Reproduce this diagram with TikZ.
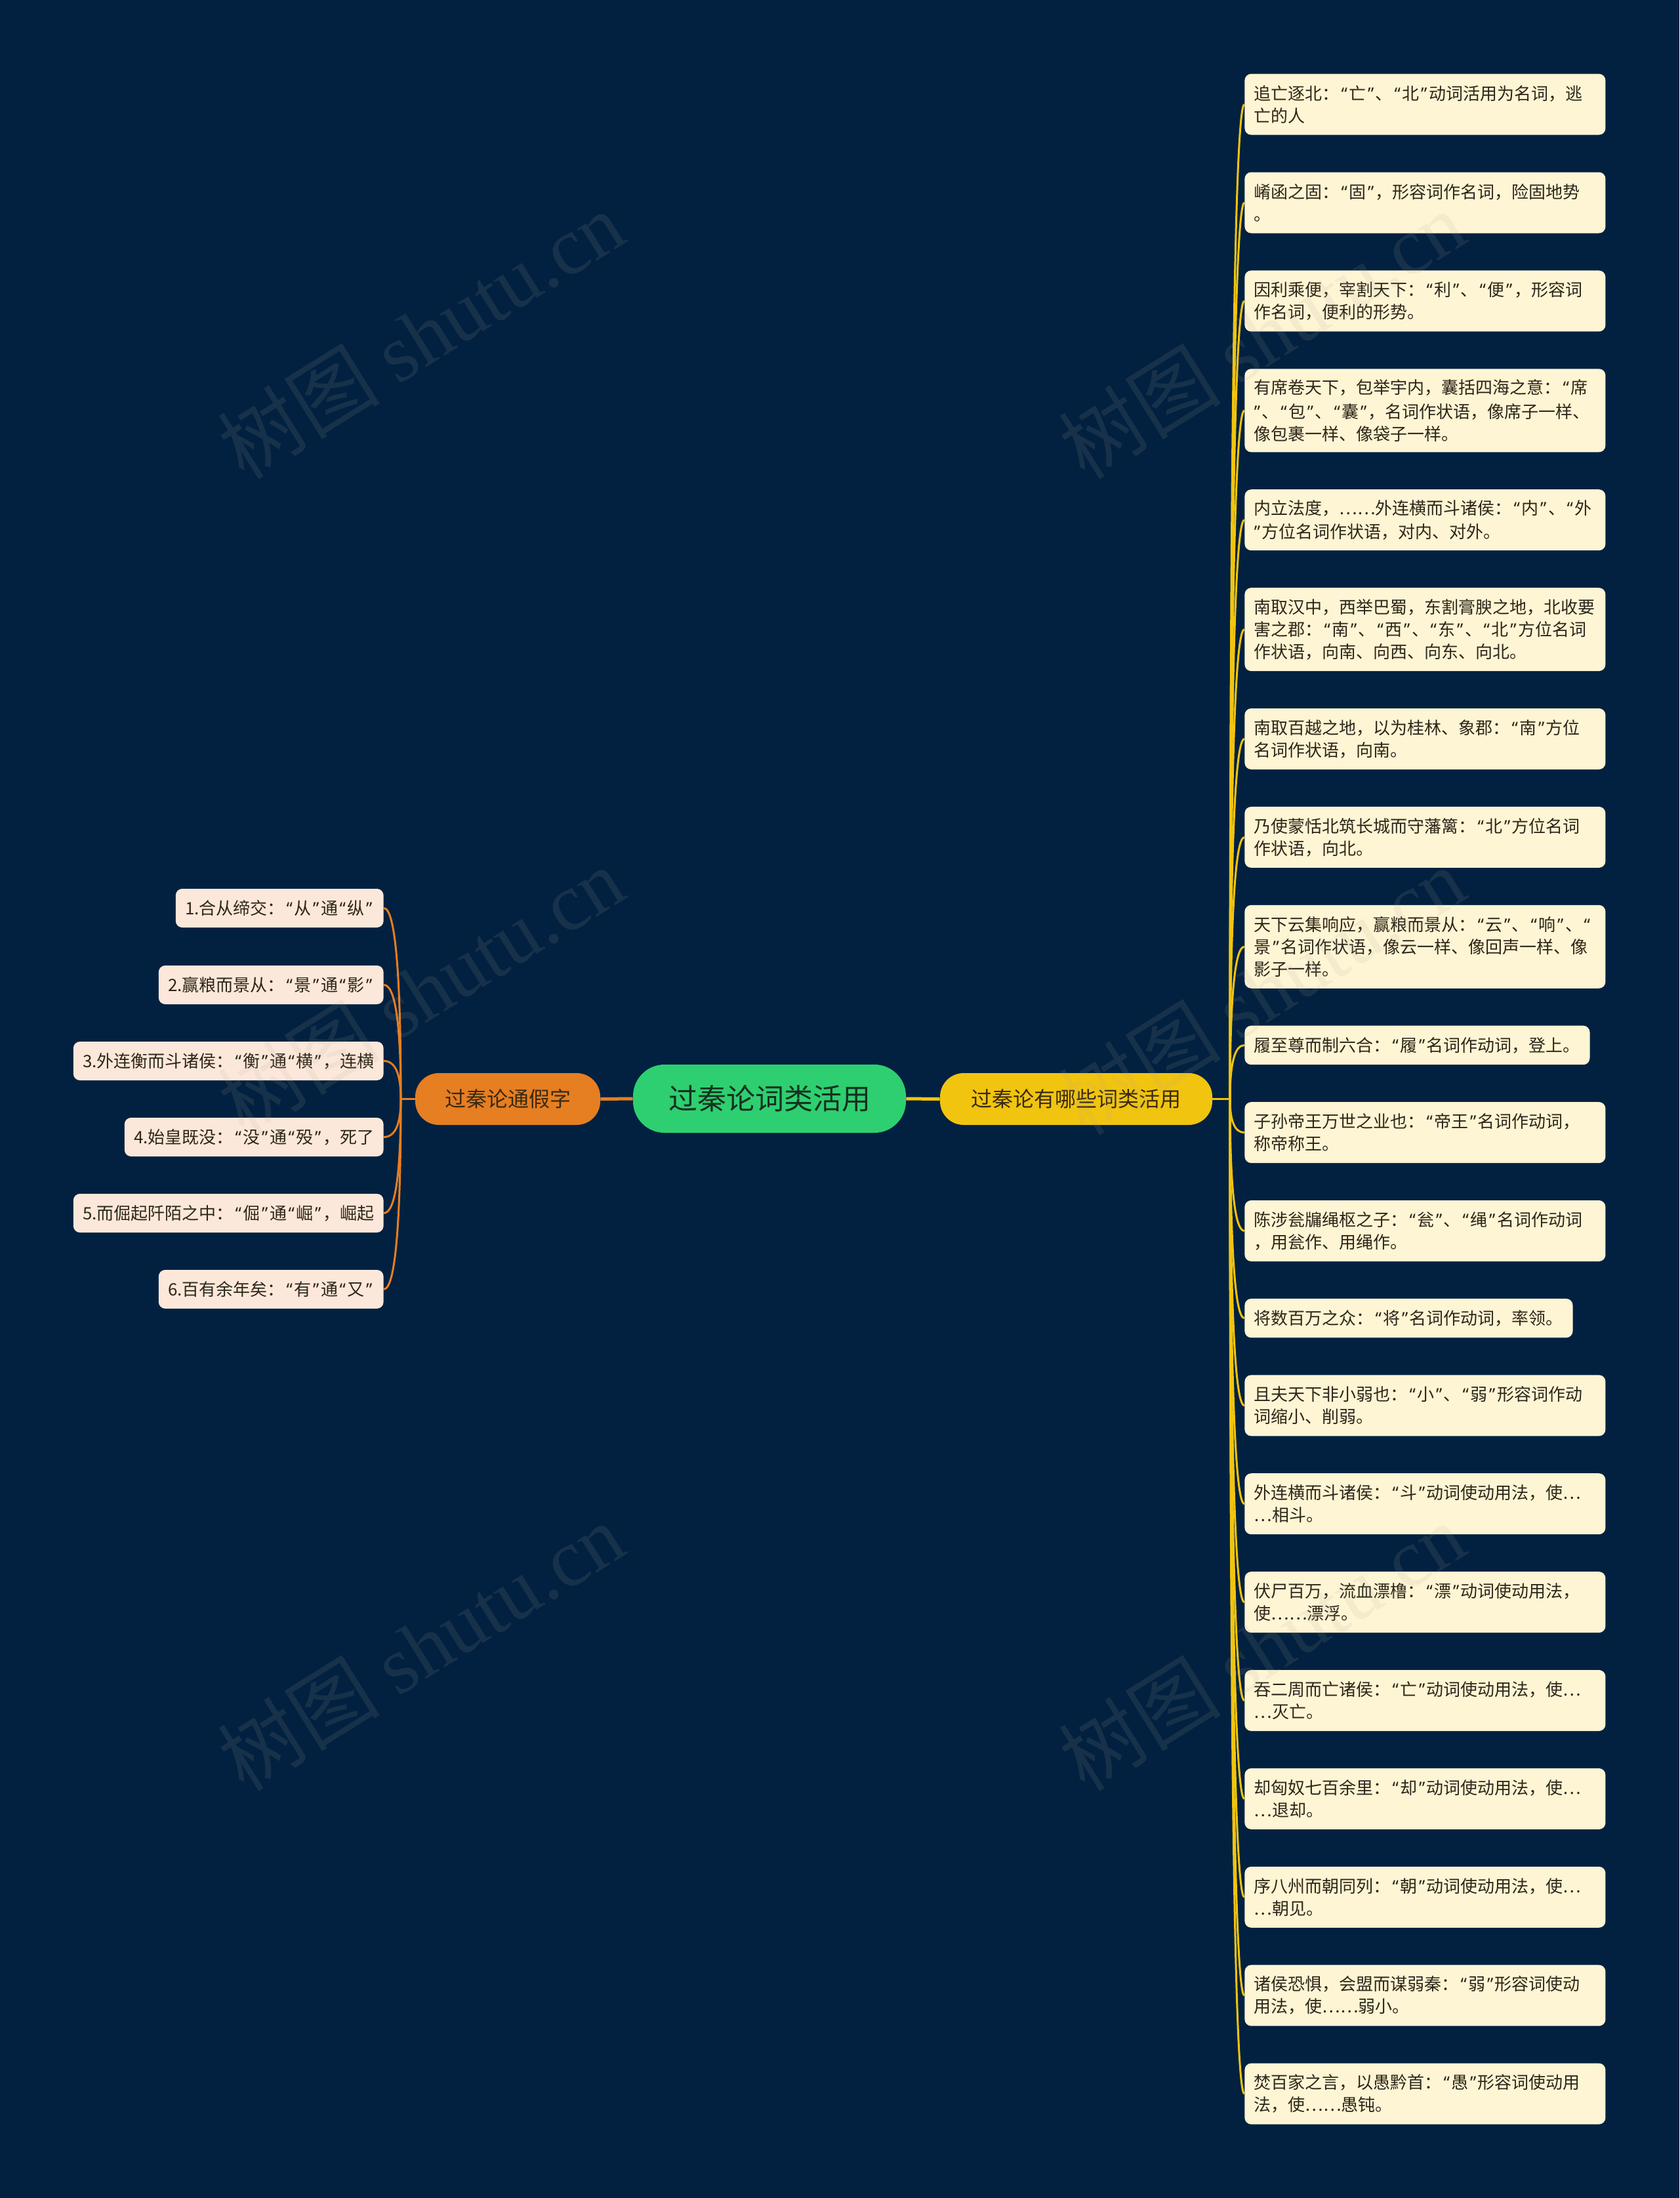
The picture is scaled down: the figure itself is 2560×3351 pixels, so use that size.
\documentclass[tikz,border=0pt]{standalone}
\usepackage{fontspec}
\usepackage{newunicodechar}
\setmainfont{Noto Sans CJK SC}
\newfontfamily\wmlatin{Liberation Serif}
\newfontfamily\qfont{Noto Sans}
\newunicodechar{“}{{\kern0.1em\qfont\char"201C\kern0.1em}}
\newunicodechar{”}{{\kern0.1em\qfont\char"201D\kern0.1em}}
\usetikzlibrary{calc}
\definecolor{bg}{HTML}{022140}
\definecolor{cgreen}{HTML}{2ECF70}
\definecolor{corange}{HTML}{E67E22}
\definecolor{cyellow}{HTML}{F1C40F}
\definecolor{rleaffill}{HTML}{FDF5D4}
\definecolor{lleaffill}{HTML}{FCE8DA}
\definecolor{leaftext}{HTML}{2E2618}
\definecolor{ctext}{HTML}{153020}
\definecolor{btext}{HTML}{3A2A10}
\definecolor{wm}{HTML}{B0A89A}
\tikzset{
  leafbase/.style={rounded corners=5pt, inner xsep=7.25pt, inner ysep=0pt,
    font=\fontsize{13pt}{17pt}\selectfont, text=leaftext, align=left},
  rleaf/.style={leafbase, fill=rleaffill, anchor=west, text width=260.5pt},
  rleafs/.style={leafbase, fill=rleaffill, anchor=west},
  lleaf/.style={leafbase, fill=lleaffill, anchor=east, minimum height=29.5pt},
  oneL/.style={minimum height=29.75pt},
  twoL/.style={minimum height=46.5pt},
  threeL/.style={minimum height=63.5pt},
  rootnode/.style={fill=cgreen, text=ctext, rounded corners=24pt, minimum width=208pt,
    minimum height=52pt, font=\fontsize{22pt}{26pt}\selectfont, inner sep=0pt},
  branchnode/.style={text=btext, rounded corners=18pt, minimum height=39.5pt,
    font=\fontsize{16pt}{20pt}\selectfont, inner sep=0pt},
  rline/.style={draw=cyellow, line width=1.5pt},
  lline/.style={draw=corange, line width=1.5pt},
  mainline/.style={line width=2.5pt},
  wmark/.style={rotate=32, text=wm, opacity=0.12, font=\fontsize{62pt}{70pt}\selectfont}
}
\begin{document}
\begin{tikzpicture}[x=0.5pt, y=-0.5pt]
\fill[bg] (0,0) rectangle (2560,3351);
\useasboundingbox (0,0) rectangle (2560,3351);

% central and branch nodes
\node[rootnode] (root) at (1173,1675) {过秦论词类活用};
\node[branchnode, fill=corange, minimum width=141pt] (lb) at (774,1675.5) {过秦论通假字};
\node[branchnode, fill=cyellow, minimum width=207.5pt] (rb) at (1640.5,1675.5) {过秦论有哪些词类活用};

% right leaves
\node[rleaf, twoL] (r1) at (1897,159.1) {追亡逐北：“亡”、“北”动词活用为名词，逃\\亡的人};
\node[rleaf, twoL] (r2) at (1897,309.0) {崤函之固：“固”，形容词作名词，险固地势\\。};
\node[rleaf, twoL] (r3) at (1897,458.9) {因利乘便，宰割天下：“利”、“便”，形容词\\作名词，便利的形势。};
\node[rleaf, threeL] (r4) at (1897,625.8) {有席卷天下，包举宇内，囊括四海之意：“席\\”、“包”、“囊”，名词作状语，像席子一样、\\像包裹一样、像袋子一样。};
\node[rleaf, twoL] (r5) at (1897,792.7) {内立法度，……外连横而斗诸侯：“内”、“外\\”方位名词作状语，对内、对外。};
\node[rleaf, threeL] (r6) at (1897,959.6) {南取汉中，西举巴蜀，东割膏腴之地，北收要\\害之郡：“南”、“西”、“东”、“北”方位名词\\作状语，向南、向西、向东、向北。};
\node[rleaf, twoL] (r7) at (1897,1126.5) {南取百越之地，以为桂林、象郡：“南”方位\\名词作状语，向南。};
\node[rleaf, twoL] (r8) at (1897,1276.4) {乃使蒙恬北筑长城而守藩篱：“北”方位名词\\作状语，向北。};
\node[rleaf, threeL] (r9) at (1897,1443.3) {天下云集响应，赢粮而景从：“云”、“响”、“\\景”名词作状语，像云一样、像回声一样、像\\影子一样。};
\node[rleafs, oneL] (r10) at (1897,1593.45) {履至尊而制六合：“履”名词作动词，登上。};
\node[rleaf, twoL] (r11) at (1897,1726.6) {子孙帝王万世之业也：“帝王”名词作动词，\\称帝称王。};
\node[rleaf, twoL] (r12) at (1897,1876.5) {陈涉瓮牖绳枢之子：“瓮”、“绳”名词作动词\\，用瓮作、用绳作。};
\node[rleafs, oneL] (r13) at (1897,2009.65) {将数百万之众：“将”名词作动词，率领。};
\node[rleaf, twoL] (r14) at (1897,2142.8) {且夫天下非小弱也：“小”、“弱”形容词作动\\词缩小、削弱。};
\node[rleaf, twoL] (r15) at (1897,2292.7) {外连横而斗诸侯：“斗”动词使动用法，使…\\…相斗。};
\node[rleaf, twoL] (r16) at (1897,2442.6) {伏尸百万，流血漂橹：“漂”动词使动用法，\\使……漂浮。};
\node[rleaf, twoL] (r17) at (1897,2592.5) {吞二周而亡诸侯：“亡”动词使动用法，使…\\…灭亡。};
\node[rleaf, twoL] (r18) at (1897,2742.4) {却匈奴七百余里：“却”动词使动用法，使…\\…退却。};
\node[rleaf, twoL] (r19) at (1897,2892.3) {序八州而朝同列：“朝”动词使动用法，使…\\…朝见。};
\node[rleaf, twoL] (r20) at (1897,3042.2) {诸侯恐惧，会盟而谋弱秦：“弱”形容词使动\\用法，使……弱小。};
\node[rleaf, twoL] (r21) at (1897,3192.1) {焚百家之言，以愚黔首：“愚”形容词使动用\\法，使……愚钝。};

% left leaves
\node[lleaf] (l1) at (585,1384.5) {1.合从缔交：“从”通“纵”};
\node[lleaf] (l2) at (585,1501.5) {2.赢粮而景从：“景”通“影”};
\node[lleaf] (l3) at (585,1617.5) {3.外连衡而斗诸侯：“衡”通“横”，连横};
\node[lleaf] (l4) at (585,1733.5) {4.始皇既没：“没”通“殁”，死了};
\node[lleaf] (l5) at (585,1849.5) {5.而倔起阡陌之中：“倔”通“崛”，崛起};
\node[lleaf] (l6) at (585,1965.5) {6.百有余年矣：“有”通“又”};

% main connectors
\draw[mainline, draw=cyellow] (root.east) -- (rb.west);
\draw[mainline, draw=corange] (root.west) -- (lb.east);

% right fan
\coordinate (rj) at (1875,1675.5);
\draw[rline] (rb.east) -- (rj);
\foreach \i in {1,...,21} {
  \coordinate (q\i) at (rj |- r\i.west);
  \draw[rline] (rj) .. controls ($(rj)!0.6667!(q\i)$) and ($(r\i.west)!0.6667!(q\i)$) .. (r\i.west);
}

% left fan
\coordinate (lj) at (611,1675.5);
\draw[lline] (lb.west) -- (lj);
\foreach \i in {1,...,6} {
  \coordinate (p\i) at (lj |- l\i.east);
  \draw[lline] (lj) .. controls ($(lj)!0.6667!(p\i)$) and ($(l\i.east)!0.6667!(p\i)$) .. (l\i.east);
}

% watermarks
\node[wmark] (w1) at (641,510) {树图 {\wmlatin shutu.cn}};
\node[wmark] (w2) at (1923,510) {树图 {\wmlatin shutu.cn}};
\node[wmark] (w3) at (641,1510) {树图 {\wmlatin shutu.cn}};
\node[wmark] (w4) at (1923,1510) {树图 {\wmlatin shutu.cn}};
\node[wmark] (w5) at (641,2510) {树图 {\wmlatin shutu.cn}};
\node[wmark] (w6) at (1923,2510) {树图 {\wmlatin shutu.cn}};
\end{tikzpicture}
\end{document}
